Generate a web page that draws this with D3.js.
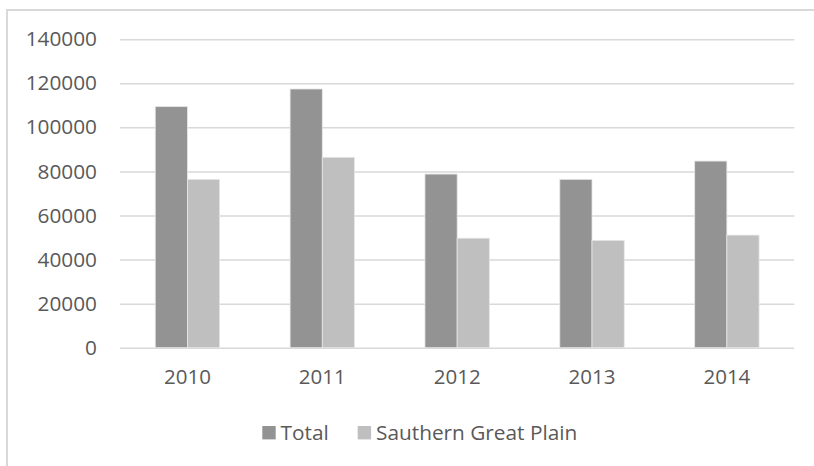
<!DOCTYPE html>
<html>
<head>
<meta charset="utf-8">
<script src="https://cdn.jsdelivr.net/npm/d3@7"></script>
<style>
  html, body { margin: 0; padding: 0; background: #ffffff; }
  svg { display: block; }
  text { font-family: "Open Sans", "Noto Sans", sans-serif; fill: #595959; }
</style>
</head>
<body>
<svg id="chart" width="814" height="466"></svg>
<script>
// Yearly figures: total versus the Southern Great Plain region
const years = ["2010", "2011", "2012", "2013", "2014"];
const totalValues = [109400, 117400, 78800, 76400, 84700];
const plainValues = [76400, 86400, 49700, 48700, 51100];
const seriesNames = ["Total", "Sauthern Great Plain"];
const seriesColors = ["#939393", "#bfbfbf"];
const yTicks = [0, 20000, 40000, 60000, 80000, 100000, 120000, 140000];

const svg = d3.select("#chart");
const W = 814, H = 466;

// outer chart frame (runs off the right and bottom edges)
svg.append("rect")
  .attr("x", 7).attr("y", 10)
  .attr("width", W + 10).attr("height", H + 10)
  .attr("fill", "#ffffff")
  .attr("stroke", "#d9d9d9").attr("stroke-width", 2);

const plot = { left: 120, right: 794.3, top: 39.2, bottom: 347.7 };

const y = d3.scaleLinear().domain([0, 140000]).range([plot.bottom, plot.top]);

const x0 = d3.scaleBand()
  .domain(years)
  .range([plot.left, plot.right])
  .paddingInner(0.5226)
  .paddingOuter(0.2613);

const x1 = d3.scaleBand()
  .domain(seriesNames)
  .range([0, x0.bandwidth()]);

// horizontal gridlines
const yAxis = d3.axisLeft(y)
  .tickValues(yTicks)
  .tickSize(-(plot.right - plot.left))
  .tickPadding(23)
  .tickFormat(d3.format("d"));

const gy = svg.append("g")
  .attr("transform", `translate(${plot.left},0)`)
  .call(yAxis);
gy.select(".domain").remove();
gy.selectAll(".tick line").attr("stroke", "#d9d9d9").attr("stroke-width", 1.5);
gy.selectAll(".tick text")
  .attr("font-size", 20.8)
  .attr("fill", "#595959");

// bars
const rows = years.map((yr, i) => ({ year: yr, values: [totalValues[i], plainValues[i]] }));

const groups = svg.append("g").selectAll("g")
  .data(rows)
  .join("g")
  .attr("transform", d => `translate(${x0(d.year)},0)`);

groups.selectAll("rect")
  .data(d => d.values.map((v, k) => ({ name: seriesNames[k], value: v, color: seriesColors[k] })))
  .join("rect")
  .attr("x", d => x1(d.name))
  .attr("y", d => y(d.value))
  .attr("width", x1.bandwidth())
  .attr("height", d => y(0) - y(d.value))
  .attr("fill", d => d.color)
  .attr("stroke", "#e6e6e6")
  .attr("stroke-width", 0.8);

// category axis labels
const xAxis = d3.axisBottom(x0).tickSize(0).tickPadding(22);
const gx = svg.append("g")
  .attr("transform", `translate(0,${plot.bottom})`)
  .call(xAxis);
gx.select(".domain").remove();
gx.selectAll(".tick text")
  .attr("font-size", 20.5)
  .attr("fill", "#595959");

// legend
const legendItems = [
  { name: seriesNames[0], color: seriesColors[0], sx: 262.3, tx: 280.5 },
  { name: seriesNames[1], color: seriesColors[1], sx: 357.7, tx: 376 }
];
const lg = svg.append("g");
legendItems.forEach(it => {
  lg.append("rect")
    .attr("x", it.sx).attr("y", 426)
    .attr("width", 13.4).attr("height", 13.4)
    .attr("fill", it.color);
  lg.append("text")
    .attr("x", it.tx).attr("y", 439.5)
    .attr("font-size", 20.8)
    .text(it.name);
});
</script>
</body>
</html>
